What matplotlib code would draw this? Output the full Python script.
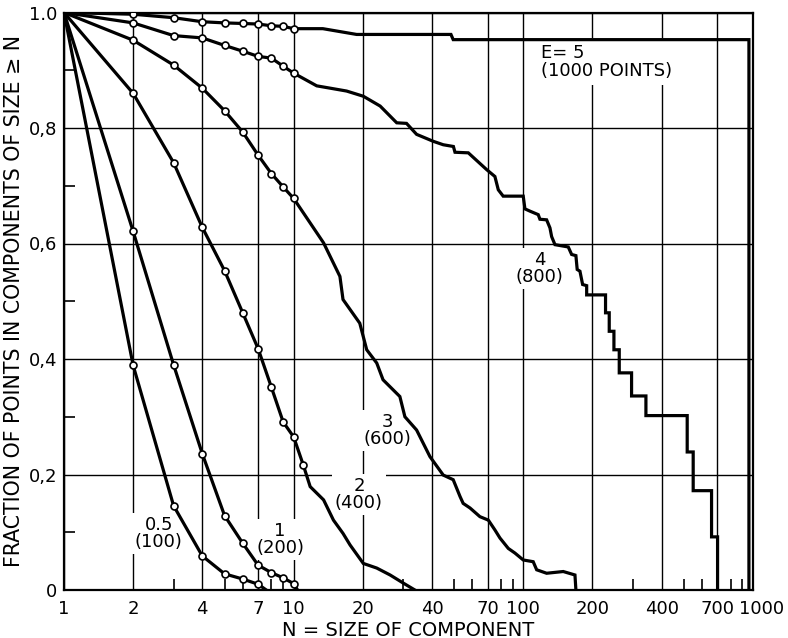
import matplotlib
matplotlib.use("Agg")
import matplotlib.pyplot as plt
from matplotlib.transforms import ScaledTranslation

# open-circle points (integer component sizes)
n_marks = [2, 3, 4, 5, 6, 7, 8, 9, 10]
n_marks_e2 = [2, 3, 4, 5, 6, 7, 8, 9, 10, 11]
n_marks_e05 = [2, 3, 4, 5, 6, 7]

# E = 0.5 (100 points)
e05_f = [0.389, 0.146, 0.059, 0.028, 0.019, 0.010]
e05_tail_n = [7.6]
e05_tail_f = [0.0]

# E = 1 (200 points)
e1_f = [0.621, 0.390, 0.236, 0.129, 0.081, 0.043, 0.030, 0.021, 0.011]
e1_tail_n = [10.4]
e1_tail_f = [0.0]

# E = 2 (400 points)
e2_f = [0.860, 0.740, 0.628, 0.553, 0.480, 0.418, 0.351, 0.291, 0.265, 0.217]
e2_tail_n = [11.8, 13.5, 14.9, 16.4, 17.6, 20.1, 23.0, 26.3, 30.0, 33.7]
e2_tail_f = [0.179, 0.156, 0.121, 0.098, 0.078, 0.046, 0.038, 0.026, 0.012, 0.0]

# E = 3 (600 points)
e3_f = [0.952, 0.909, 0.869, 0.830, 0.793, 0.753, 0.721, 0.698, 0.678]
e3_tail_n = [13.5, 15.9, 16.4, 19.4, 20.8, 23.0, 24.5, 29.0, 30.5, 34.3, 39.2,
             44.8, 49.5, 53.0, 54.7, 58.6, 64.7, 70.4, 75.2, 79.1, 86.0, 91.9,
             99.9, 110.4, 114.3, 126.3, 149.2, 167.8, 169.4]
e3_tail_f = [0.601, 0.543, 0.503, 0.462, 0.416, 0.393, 0.364, 0.335, 0.300, 0.277, 0.231,
             0.199, 0.191, 0.162, 0.150, 0.142, 0.127, 0.121, 0.104, 0.090, 0.072, 0.064,
             0.052, 0.049, 0.035, 0.029, 0.032, 0.026, 0.0]

# E = 4 (800 points)
e4_f = [0.982, 0.960, 0.956, 0.943, 0.933, 0.924, 0.921, 0.907, 0.895]
e4_tail_n = [12.6, 14.4, 17.0, 20.1, 23.8, 28.1, 31.0, 34.3, 40.5, 44.8, 49.6, 50.4,
             57.6, 69.2, 75.2, 77.8, 81.7, 99.9, 101.6, 106.9, 116.1, 118.1, 126.3,
             130.6, 132.8, 137.3, 156.9, 162.3, 169.4, 171.6, 176.4, 181.2, 188.7,
             188.7, 228, 228, 236.6, 236.6, 248, 248, 261.6, 261.6, 296, 296,
             341.8, 341.8, 517, 517, 549, 549, 660, 660, 701, 701]
e4_tail_f = [0.873, 0.869, 0.864, 0.855, 0.838, 0.809, 0.808, 0.789, 0.777, 0.771, 0.768, 0.758,
             0.757, 0.728, 0.716, 0.693, 0.682, 0.682, 0.660, 0.656, 0.650, 0.642, 0.641,
             0.627, 0.612, 0.598, 0.594, 0.581, 0.579, 0.555, 0.552, 0.529, 0.527,
             0.511, 0.511, 0.480, 0.480, 0.448, 0.448, 0.416, 0.416, 0.376, 0.376, 0.336,
             0.336, 0.302, 0.302, 0.239, 0.239, 0.172, 0.172, 0.092, 0.092, 0.0]

# E = 5 (1000 points)
e5_f = [0.997, 0.991, 0.984, 0.982, 0.981, 0.980, 0.977, 0.976, 0.972]
e5_tail_n = [13.4, 18.8, 48.4, 49.5, 960, 960]
e5_tail_f = [0.972, 0.962, 0.962, 0.953, 0.953, 0.0]

curves = [
    (n_marks_e05, e05_f, e05_tail_n, e05_tail_f),
    (n_marks, e1_f, e1_tail_n, e1_tail_f),
    (n_marks_e2, e2_f, e2_tail_n, e2_tail_f),
    (n_marks, e3_f, e3_tail_n, e3_tail_f),
    (n_marks, e4_f, e4_tail_n, e4_tail_f),
    (n_marks, e5_f, e5_tail_n, e5_tail_f),
]

# curve labels: text, N, fraction
labels = [
    ("0.5\n(100)", 2.59, 0.098),
    ("1\n(200)", 8.72, 0.088),
    ("2\n(400)", 19.25, 0.165),
    ("3\n(600)", 25.6, 0.276),
    ("4\n(800)", 118.0, 0.557),
]

x_major = [1, 2, 4, 7, 10, 20, 40, 70, 100, 200, 400, 700, 1000]
x_major_labels = ["1", "2", "4", "7", "10", "20", "40", "70", "100", "200", "400", "700", ""]
x_minor = [3, 5, 6, 8, 9, 30, 50, 60, 80, 90, 300, 500, 600, 800, 900]
y_major = [0, 0.2, 0.4, 0.6, 0.8, 1.0]
y_major_labels = ["0", "0,2", "0,4", "0,6", "0,8", "1.0"]
y_minor = [0.1, 0.3, 0.5, 0.7, 0.9]

plt.rcParams['font.family'] = ['DejaVu Sans']

fig = plt.figure(figsize=(7.88, 6.38), dpi=100)
ax = fig.add_axes([64 / 788, 48 / 638, 689 / 788, 577.5 / 638])

for mn, mf, tn, tf in curves:
    xs = [1] + list(mn) + list(tn)
    ys = [1.0] + list(mf) + list(tf)
    ax.plot(xs, ys, color='black', lw=2.3, zorder=4, solid_joinstyle='miter')
    ax.plot(mn, mf, 'o', ms=5, mfc='white', mec='black', mew=1.2, zorder=5)

for txt, xn, yf in labels:
    ax.text(xn, yf, txt, ha='center', va='center', multialignment='center',
            fontsize=13, linespacing=0.95, zorder=3,
            bbox=dict(fc='white', ec='none', pad=2))

ax.text(119, 0.915, "E= 5\n(1000 POINTS)", ha='left', va='center',
        fontsize=13, linespacing=1.0, zorder=3,
        bbox=dict(fc='white', ec='none', pad=4))

ax.set_xscale('log')
ax.set_xlim(1, 1000)
ax.set_ylim(0, 1.0)
ax.set_xticks(x_major)
ax.set_xticklabels(x_major_labels)
ax.set_xticks(x_minor, minor=True)
ax.set_xticklabels([], minor=True)
ax.set_yticks(y_major)
ax.set_yticklabels(y_major_labels)
ax.set_yticks(y_minor, minor=True)

ax.tick_params(which='major', length=0, labelsize=13)
ax.tick_params(axis='x', which='major', pad=7)
ax.tick_params(axis='y', which='major', pad=5)
ax.tick_params(which='minor', direction='in', length=8, width=1.2, color='black')

# last x label sits a little to the right in the original
off = ScaledTranslation(9 / 100, -7 / 72, fig.dpi_scale_trans)
ax.text(1000, 0, "1000", transform=ax.get_xaxis_transform() + off,
        ha='center', va='top', fontsize=13)

ax.grid(True, which='major', color='black', lw=1.0)
ax.set_axisbelow(True)
for s in ax.spines.values():
    s.set_linewidth(1.6)

ax.set_xlabel("N = SIZE OF COMPONENT", fontsize=14, labelpad=2)
ax.set_ylabel("FRACTION OF POINTS IN COMPONENTS OF SIZE \u2265 N", fontsize=14.8, labelpad=3)

fig.savefig("out.png", dpi=100)
